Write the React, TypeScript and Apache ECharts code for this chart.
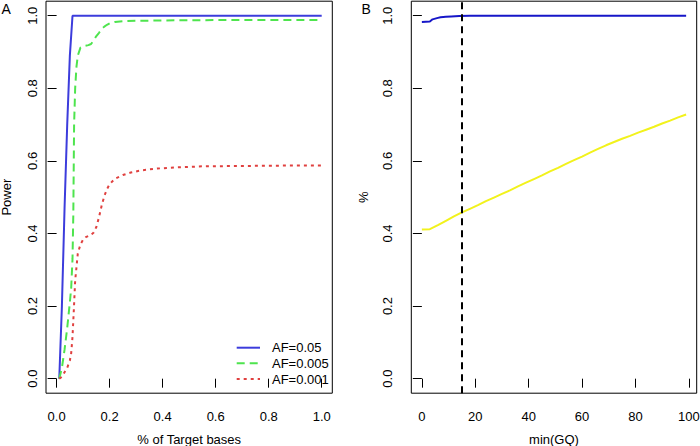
import React, { useEffect, useRef } from "react";
import * as echarts from "echarts";

const FONT = "'Liberation Sans', Arial, Helvetica, sans-serif";

// Panel A: % of target bases vs power
const aTicksX = [0, 0.2, 0.4, 0.6, 0.8, 1.0];
const yTicks = [0, 0.2, 0.4, 0.6, 0.8, 1.0];

const legendNames = ["AF=0.05", "AF=0.005", "AF=0.001"];
const colorsA = ["#3c3cdc", "#4ee44e", "#e0403f"];

const af05X = [0.01, 0.02, 0.03, 0.04, 0.05, 0.06, 0.1, 0.2, 0.4, 0.6, 0.8, 1.0];
const af05Y = [0, 0.2, 0.47, 0.7, 0.89, 1.0, 1.0, 1.0, 1.0, 1.0, 1.0, 1.0];

const af005X = [0.01, 0.02, 0.03, 0.04, 0.05, 0.055, 0.06, 0.063, 0.066, 0.07, 0.075, 0.08, 0.09, 0.1, 0.12, 0.13, 0.14, 0.15, 0.16, 0.17, 0.18, 0.19, 0.2, 0.22, 0.25, 0.3, 0.4, 0.6, 0.8, 1.0];
const af005Y = [0, 0.03, 0.08, 0.14, 0.21, 0.25, 0.33, 0.45, 0.7, 0.8, 0.86, 0.89, 0.912, 0.916, 0.919, 0.922, 0.932, 0.944, 0.953, 0.963, 0.97, 0.975, 0.979, 0.983, 0.985, 0.986, 0.987, 0.988, 0.988, 0.988];

const af001X = [0.01, 0.02, 0.03, 0.04, 0.05, 0.055, 0.06, 0.065, 0.07, 0.08, 0.09, 0.1, 0.11, 0.12, 0.13, 0.14, 0.15, 0.16, 0.17, 0.18, 0.19, 0.2, 0.22, 0.25, 0.28, 0.32, 0.38, 0.45, 0.55, 0.7, 0.85, 1.0];
const af001Y = [0, 0.005, 0.018, 0.03, 0.05, 0.07, 0.115, 0.19, 0.27, 0.345, 0.37, 0.383, 0.39, 0.393, 0.396, 0.403, 0.418, 0.445, 0.477, 0.503, 0.522, 0.536, 0.551, 0.561, 0.568, 0.574, 0.579, 0.582, 0.585, 0.586, 0.587, 0.587];

// Panel B: min(GQ) vs %
const bTicksX = [0, 20, 40, 60, 80, 100];
const gqCut = 15;

const bBlueX = [0, 3, 4, 5, 6, 7, 9, 11, 14, 18, 40, 60, 80, 99];
const bBlueY = [0.983, 0.984, 0.99, 0.992, 0.994, 0.996, 0.997, 0.998, 0.999, 1.0, 1.0, 1.0, 1.0, 1.0];

const bYellowX = [0, 3, 6, 9, 12, 15, 18, 21, 24, 27, 30, 33, 36, 39, 42, 45, 48, 51, 54, 57, 60, 63, 66, 69, 72, 75, 78, 81, 84, 87, 90, 93, 96, 99];
const bYellowY = [0.411, 0.412, 0.423, 0.435, 0.447, 0.458, 0.468, 0.478, 0.489, 0.499, 0.509, 0.519, 0.53, 0.54, 0.55, 0.56, 0.571, 0.581, 0.592, 0.602, 0.612, 0.623, 0.633, 0.643, 0.652, 0.661, 0.669, 0.678, 0.686, 0.694, 0.703, 0.711, 0.72, 0.728];

const pairs = (xs: number[], ys: number[]) => xs.map((x, i) => [x, ys[i]]);

const txt = { color: "#000", fontSize: 13, fontFamily: FONT };

function xAxis(grid: number, min: number, max: number, ticks: number[], fmt: (v: number) => string, name: string) {
  return {
    gridIndex: grid,
    type: "value",
    min,
    max,
    axisLine: { show: false },
    splitLine: { show: false },
    axisTick: { show: true, length: 9, lineStyle: { color: "#000", width: 1 }, customValues: ticks },
    axisLabel: { customValues: ticks, formatter: fmt, margin: 17, ...txt },
    name,
    nameLocation: "middle",
    nameGap: 39.5,
    nameMoveOverlap: false,
    nameTextStyle: txt,
  };
}

function yAxis(grid: number, name: string, gap: number, labelMargin: number) {
  return {
    gridIndex: grid,
    type: "value",
    min: -0.04,
    max: 1.04,
    axisLine: { show: false },
    splitLine: { show: false },
    axisTick: { show: true, length: 9, lineStyle: { color: "#000", width: 1 }, customValues: yTicks },
    axisLabel: {
      customValues: yTicks,
      formatter: (v: number) => v.toFixed(1),
      margin: labelMargin,
      rotate: 90,
      align: "center",
      verticalAlign: "bottom",
      ...txt,
    },
    name,
    nameLocation: "middle",
    nameGap: gap,
    nameRotate: 90,
    nameMoveOverlap: false,
    nameTextStyle: txt,
  };
}

const legendDash: any[] = ["solid", [8, 5], [3, 4]];
const legendRows = [347.7, 363.3, 379];

export default function App() {
  const ref = useRef<HTMLDivElement>(null);
  useEffect(() => {
    if (!ref.current) return;
    const chart = echarts.init(ref.current, undefined, { renderer: "svg" });
    const legendGraphics: any[] = [];
    legendNames.forEach((n, i) => {
      legendGraphics.push({
        type: "line",
        shape: { x1: 236.7, y1: legendRows[i], x2: 260, y2: legendRows[i] },
        style: { stroke: colorsA[i], lineWidth: 2, lineDash: legendDash[i] === "solid" ? null : legendDash[i] },
      });
      legendGraphics.push({
        type: "text",
        x: 272,
        y: legendRows[i],
        style: { text: n, fontSize: 13, fill: "#000", fontFamily: FONT, verticalAlign: "middle", align: "left" },
      });
    });
    const gridBase = { top: 1.2, bottom: 52.8, show: true, borderColor: "#000", borderWidth: 1, backgroundColor: "transparent", containLabel: false, outerBoundsMode: "none" };
    const option: any = {
      animation: false,
      backgroundColor: "#fff",
      textStyle: { fontFamily: FONT },
      grid: [
        { ...gridBase, left: 46, right: 367.7 },
        { ...gridBase, left: 411.3, right: 3.3 },
      ],
      xAxis: [
        xAxis(0, -0.04, 1.04, aTicksX, (v: number) => v.toFixed(1), "% of Target bases"),
        xAxis(1, -3.96, 102.96, bTicksX, (v: number) => String(v), "min(GQ)"),
      ],
      yAxis: [yAxis(0, "Power", 33, 7), yAxis(1, "%", 41, 17)],
      graphic: [
        { type: "text", left: 1.5, top: 1.5, style: { text: "A", fontSize: 14, fill: "#000", fontFamily: FONT } },
        { type: "text", left: 361.5, top: 1.5, style: { text: "B", fontSize: 14, fill: "#000", fontFamily: FONT } },
        ...legendGraphics,
      ],
      series: [
        {
          name: legendNames[0], type: "line", xAxisIndex: 0, yAxisIndex: 0, symbol: "none",
          data: pairs(af05X, af05Y),
          lineStyle: { color: colorsA[0], width: 2 },
        },
        {
          name: legendNames[1], type: "line", xAxisIndex: 0, yAxisIndex: 0, symbol: "none",
          data: pairs(af005X, af005Y),
          lineStyle: { color: colorsA[1], width: 2, type: [8, 5] },
        },
        {
          name: legendNames[2], type: "line", xAxisIndex: 0, yAxisIndex: 0, symbol: "none",
          data: pairs(af001X, af001Y),
          lineStyle: { color: colorsA[2], width: 2, type: [3, 4] },
        },
        {
          name: "blueB", type: "line", xAxisIndex: 1, yAxisIndex: 1, symbol: "none",
          data: pairs(bBlueX, bBlueY),
          lineStyle: { color: "#1616c8", width: 2 },
          markLine: {
            silent: true, symbol: "none", label: { show: false },
            lineStyle: { color: "#000", width: 2, type: [7, 5] },
            data: [{ xAxis: gqCut }],
          },
        },
        {
          name: "yellowB", type: "line", xAxisIndex: 1, yAxisIndex: 1, symbol: "none",
          data: pairs(bYellowX, bYellowY),
          lineStyle: { color: "#f2f21c", width: 2 },
        },
      ],
    };
    chart.setOption(option);
    return () => chart.dispose();
  }, []);
  return <div ref={ref} style={{ position: "fixed", left: 0, top: 0, width: 700, height: 446 }} />;
}
